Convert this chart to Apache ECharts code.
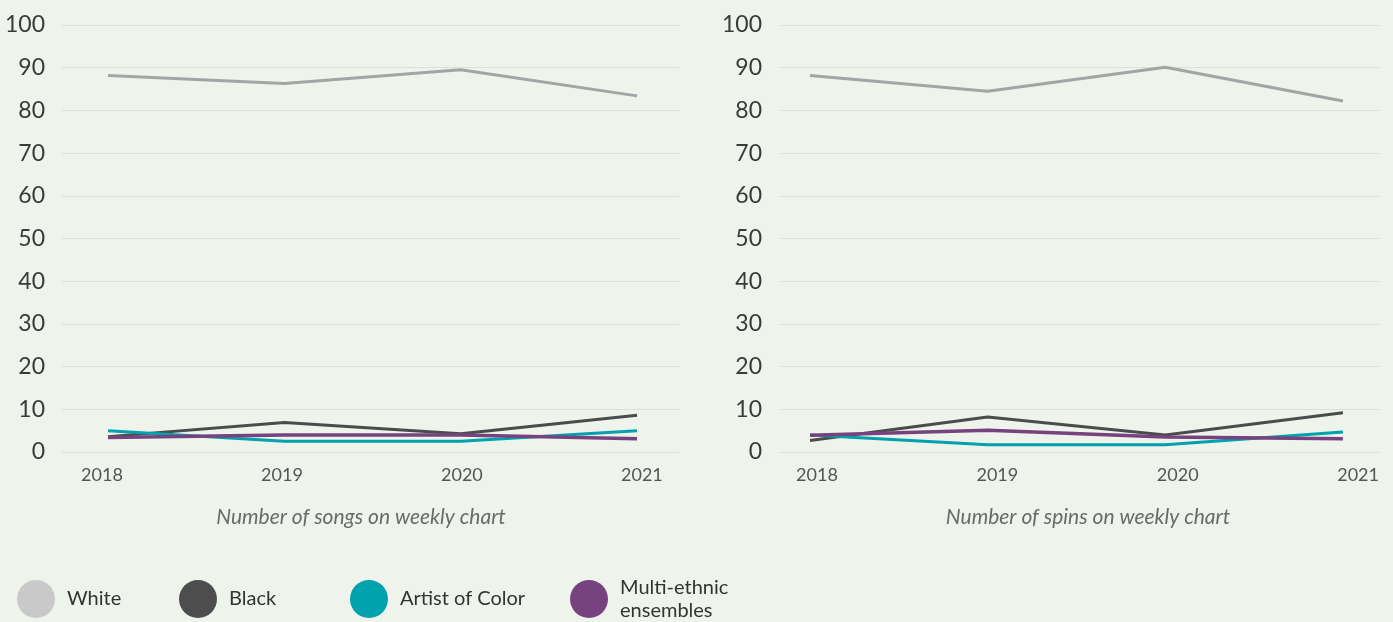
<!DOCTYPE html>
<html>
<head>
<meta charset="utf-8">
<script src="https://cdn.jsdelivr.net/npm/echarts@6/dist/echarts.min.js"></script>
<style>
html,body{margin:0;padding:0;background:#eef3ec;}
#c{width:1393px;height:622px;}
</style>
</head>
<body>
<div id="c"></div>
<script>
var years = [2018, 2019, 2020, 2021];
var yTicks = [0, 10, 20, 30, 40, 50, 60, 70, 80, 90, 100];
var seriesNames = ['White', 'Black', 'Artist of Color', 'Multi-ethnic ensembles'];
var legendLabels = ['White', 'Black', 'Artist of Color', 'Multi-ethnic\nensembles'];

var songsWhite = [88.2, 86.3, 89.5, 83.4];
var songsBlack = [3.6, 6.9, 4.3, 8.6];
var songsAoC   = [5.0, 2.5, 2.5, 5.0];
var songsMulti = [3.4, 4.0, 4.0, 3.1];

var spinsWhite = [88.2, 84.5, 90.1, 82.2];
var spinsBlack = [2.7, 8.2, 4.0, 9.2];
var spinsAoC   = [4.0, 1.7, 1.7, 4.7];
var spinsMulti = [3.9, 5.1, 3.5, 3.1];

var subtitles = ['Number of songs on weekly chart', 'Number of spins on weekly chart'];

var lineColors = ['#a4a4a4', '#4b4b4b', '#00a1ad', '#76437f'];
var legendColors = ['#c9c9c9', '#4d4d4d', '#00a2ae', '#76437f'];
var FONT = 'Lato, "Open Sans", sans-serif';

function pairs(vals){ return years.map(function(y,i){ return [y, vals[i]]; }); }

var chart = echarts.init(document.getElementById('c'), null, {renderer:'canvas'});

var grids = [
  {left:62, top:25, width:617, height:427},
  {left:780, top:25, width:599, height:427}
];

var yAxes = [0,1].map(function(g){
  return {
    type:'value', gridIndex:g, min:0, max:100, interval:10,
    axisLine:{show:false}, axisTick:{show:false},
    axisLabel:{color:'#3a3a3a', fontSize:23, fontFamily:FONT, margin:g===0?17:18},
    splitLine:{lineStyle:{color:'#dcdfda', width:1}}
  };
});

// data axes (hidden) and label axes
var dataRanges = [[2017.739, 2021.238],[2017.831, 2021.203]];
var labelRanges = [[2017.778, 2021.206],[2017.795, 2021.116]];
var xAxes = [];
[0,1].forEach(function(g){
  xAxes.push({
    type:'value', gridIndex:g, min:dataRanges[g][0], max:dataRanges[g][1],
    show:false, splitLine:{show:false}
  });
});
[0,1].forEach(function(g){
  xAxes.push({
    type:'value', gridIndex:g, position:'bottom', min:labelRanges[g][0], max:labelRanges[g][1],
    axisLine:{show:false}, axisTick:{show:false}, splitLine:{show:false},
    axisLabel:{customValues:years, formatter:function(v){return String(Math.round(v));},
      color:'#555555', fontSize:18, fontFamily:FONT, margin:14, showMinLabel:true, showMaxLabel:true}
  });
});

var sets = [[songsWhite, songsBlack, songsAoC, songsMulti],[spinsWhite, spinsBlack, spinsAoC, spinsMulti]];
var series = [];
[0,1].forEach(function(g){
  sets[g].forEach(function(vals, k){
    series.push({
      type:'line', name:seriesNames[k], xAxisIndex:g, yAxisIndex:g,
      data:pairs(vals), symbol:'none', silent:true, animation:false,
      lineStyle:{color:lineColors[k], width:k===3?3.5:3},
      itemStyle:{color:lineColors[k]}
    });
  });
});

var legendWidths = [112, 121, 170, 120];

chart.setOption({
  backgroundColor:'#eef3ec',
  animation:false,
  grid:grids,
  xAxis:xAxes,
  yAxis:yAxes,
  legend:{
    left:17, top:576, padding:0, orient:'horizontal', icon:'circle',
    itemWidth:38, itemHeight:38, itemGap:0,
    selectedMode:false,
    data:seriesNames.map(function(n,k){
      return {name:n, itemStyle:{color:legendColors[k]},
        textStyle:{width:legendWidths[k], padding:[0,0,0,7], lineHeight:23, fontSize:20, color:'#333333', fontFamily:FONT}};
    }),
    formatter:function(n){ return legendLabels[seriesNames.indexOf(n)]; },
    textStyle:{fontSize:20, lineHeight:23, color:'#333333', fontFamily:FONT}
  },
  graphic:[
    {type:'text', x:361, y:517, style:{text:subtitles[0], textAlign:'center', textVerticalAlign:'middle',
      font:'italic 21px ' + FONT, fill:'#6a6a6a'}},
    {type:'text', x:1088, y:517, style:{text:subtitles[1], textAlign:'center', textVerticalAlign:'middle',
      font:'italic 21px ' + FONT, fill:'#6a6a6a'}}
  ],
  series:series
});
</script>
</body>
</html>
